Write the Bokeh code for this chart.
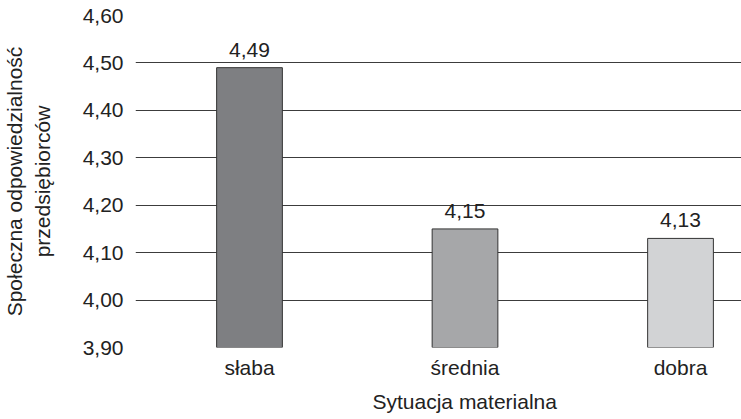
from bokeh.plotting import figure
from bokeh.models import Range1d, FixedTicker, CustomJSTickFormatter, ColumnDataSource, Title
from bokeh.embed import file_html
from bokeh.resources import INLINE

categories = ["słaba", "średnia", "dobra"]
values = [4.49, 4.15, 4.13]
colors = ["#7e7f82", "#a6a7a9", "#d2d3d5"]
y_ticks = [3.9, 4.0, 4.1, 4.2, 4.3, 4.4, 4.5, 4.6]
x_title = "Sytuacja materialna"
y_title = "Społeczna odpowiedzialność\nprzedsiębiorców"

FONT = "Liberation Sans"
TXT = "#222222"
FS = "21px"

xs = list(range(len(categories)))
labels = [f"{v:.2f}".replace(".", ",") for v in values]
src = ColumnDataSource(dict(x=xs, top=values, color=colors, label=labels))

p = figure(width=741, height=419, output_backend="svg", toolbar_location=None,
           x_range=Range1d(-0.529, 2.283), y_range=Range1d(3.9, 4.6),
           min_border_top=15, min_border_right=0, min_border_left=135,
           min_border_bottom=72)
p.outline_line_color = None
p.background_fill_color = "white"
p.border_fill_color = "white"

p.vbar(x="x", top="top", bottom=3.9, width=0.305, fill_color="color",
       line_color="#333333", line_width=1, source=src)
p.text(x="x", y="top", text="label", source=src, text_align="center",
       text_baseline="alphabetic", y_offset=-18, text_font_size=FS,
       text_color=TXT, text_font={"value": FONT})

p.xgrid.visible = False
p.ygrid.grid_line_color = "#3c3c3c"
p.ygrid.grid_line_width = 1
p.yaxis.ticker = FixedTicker(ticks=y_ticks)
p.yaxis.formatter = CustomJSTickFormatter(code="return tick.toFixed(2).replace('.', ',');")
p.xaxis.ticker = FixedTicker(ticks=xs)
p.xaxis.major_label_overrides = {i: c for i, c in zip(xs, categories)}

for ax in (p.xaxis, p.yaxis):
    ax.axis_line_color = None
    ax.major_tick_line_color = None
    ax.minor_tick_line_color = None
    ax.major_tick_out = 0
    ax.major_tick_in = 0
    ax.major_label_text_font = FONT
    ax.major_label_text_font_size = FS
    ax.major_label_text_color = TXT
    ax.axis_label_text_font = FONT
    ax.axis_label_text_font_size = FS
    ax.axis_label_text_font_style = "normal"
    ax.axis_label_text_color = TXT

p.yaxis.major_label_standoff = 12
p.yaxis.axis_label = y_title
p.yaxis.axis_label_standoff = 26
p.xaxis.major_label_standoff = 8

p.add_layout(Title(text=x_title, align="left", offset=237, standoff=12,
                   text_font=FONT, text_font_size=FS, text_font_style="normal",
                   text_color=TXT), "below")

open("out.html", "w").write(file_html(p, INLINE))
